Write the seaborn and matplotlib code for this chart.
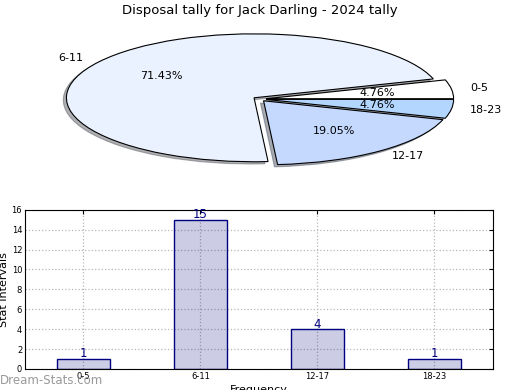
import matplotlib
matplotlib.use("Agg")
import matplotlib.pyplot as plt
import seaborn as sns

# data
intervals = ["0-5", "6-11", "12-17", "18-23"]
counts = [1, 15, 4, 1]
pie_colors = ["#ffffff", "#ebf2ff", "#c5d9ff", "#b3d6ff"]
title = "Disposal tally for Jack Darling - 2024 tally"

sns.set_style("white")
plt.rcParams["font.family"] = ["DejaVu Sans"]
plt.rcParams["text.color"] = "black"
plt.rcParams["axes.labelcolor"] = "black"
plt.rcParams["xtick.color"] = "black"
plt.rcParams["ytick.color"] = "black"
plt.rcParams["xtick.direction"] = "in"
plt.rcParams["ytick.direction"] = "in"

fig = plt.figure(figsize=(5.2, 3.9), dpi=100)

# pie on top, left squashed (no equal aspect)
ax_pie = fig.add_axes([0.048, 0.541, 0.902, 0.41])
ax_pie.pie(counts, labels=intervals, colors=pie_colors, autopct="%1.2f%%",
           explode=[0.035] * 4, startangle=0,
           shadow={"ox": -0.012, "oy": -0.025, "shade": 0.6},
           wedgeprops={"edgecolor": "black", "linewidth": 0.8},
           textprops={"fontsize": 8})
ax_pie.set_aspect("auto")
ax_pie.set_xlim(-1.25, 1.25)
ax_pie.set_ylim(-1.25, 1.25)
fig.text(0.5, 0.974, title, ha="center", va="center", fontsize=9.5)

# bar chart below
ax = fig.add_axes([0.048, 0.054, 0.9, 0.408])
sns.barplot(x=intervals, y=counts, ax=ax, width=0.45, saturation=1,
            color="navy", edgecolor="navy", linewidth=1)
for p in ax.patches:
    p.set_facecolor((0, 0, 0.5, 0.2))
    p.set_edgecolor("navy")
for i, v in enumerate(counts):
    ax.text(i, v - 0.15, str(v), ha="center", va="bottom", color="navy", fontsize=8.5)

ax.set_xlim(-0.5, 3.5)
ax.set_ylim(0, 16)
ax.set_yticks(range(0, 17, 2))
ax.tick_params(labelsize=6, length=3, top=True, right=True, pad=2)
ax.grid(True, linestyle=":", color="#b8b8b8", linewidth=0.9)
ax.set_axisbelow(True)
for s in ax.spines.values():
    s.set_visible(True)
    s.set_color("black")
ax.set_ylabel("Stat Intervals", fontsize=8, labelpad=2)
ax.set_xlabel("Frequency", fontsize=8, labelpad=3)

fig.text(0.0, 0.025, "Dream-Stats.com", color="#999999", fontsize=8.5,
         ha="left", va="center")

fig.savefig("out.png", dpi=100)
